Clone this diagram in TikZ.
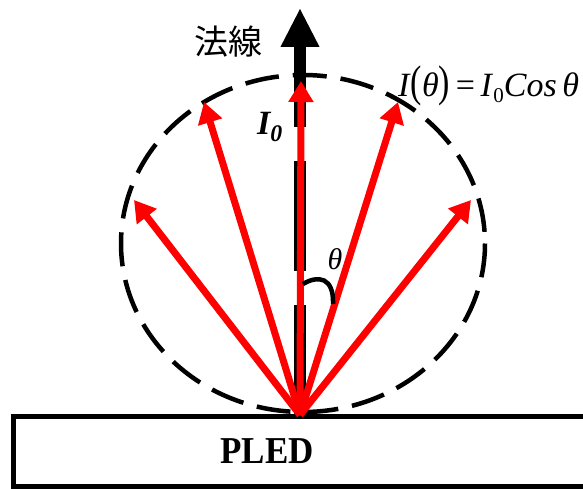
\documentclass[tikz,border=0pt]{standalone}
\usepackage{fontspec}
\setmainfont{Liberation Serif}
\newfontfamily\cjk{Noto Sans CJK JP}
\usetikzlibrary{arrows.meta}
\tikzset{
  ray/.style={draw=red, line width=7pt, -{Triangle[length=21pt 0, width=24pt 0]}},
  normal/.style={draw=black, line width=12pt, -{Triangle[length=39pt 0, width=36pt 0]}},
  normaldash/.style={draw=black, line width=12pt, dash pattern=on 110pt off 34pt},
  lobe/.style={draw=black, line width=4.5pt, dash pattern=on 34pt off 14pt},
  hook/.style={draw=black, line width=4.5pt},
  box/.style={draw=black, line width=5pt, fill=white}
}
\begin{document}
\begin{tikzpicture}[x=1pt,y=-1pt]
\useasboundingbox (0,0) rectangle (583,489);
\clip (0,0) rectangle (583,489);
% PLED box
\draw[box] (13,416) rectangle (600,486);
\node[font=\bfseries\fontsize{38}{38}\selectfont, xscale=0.92] (pled) at (267,451) {PLED};
% origin and tips
\coordinate (o) at (300,415);
\coordinate (ntop) at (300,8);
\coordinate (nbase) at (300,90);
\coordinate (t0) at (301,81);
\coordinate (tl1) at (204,102);
\coordinate (tl2) at (134,200);
\coordinate (tr1) at (398,102);
\coordinate (tr2) at (471,200);
% lobe
\draw[lobe] (303,243.5) ellipse [x radius=182, y radius=168.5];
% normal
\draw[normaldash] (o) -- (300,80);
\draw[normal] (nbase) -- (ntop);
% rays
\draw[ray] (o) -- (t0);
\draw[ray] (o) -- (tl1);
\draw[ray] (o) -- (tl2);
\draw[ray] (o) -- (tr1);
\draw[ray] (o) -- (tr2);
% angle hook
\coordinate (h1) at (303,284);
\coordinate (h2) at (333,304);
\draw[hook] (h1) .. controls (318,275) and (334,277) .. (h2);
% labels
\node[font=\cjk\fontsize{34}{34}\selectfont] (fa) at (228,42) {法線};
\node[font=\bfseries\itshape\fontsize{34}{34}\selectfont, inner sep=0pt] (i0) at (270,127) {I\textsubscript{0}};
\node[font=\itshape\fontsize{30}{30}\selectfont, inner sep=0pt] (th) at (335,259) {θ};
\node[anchor=base west, inner sep=0pt, font=\fontsize{34}{34}\selectfont] (eq) at (398,97)
  {\textit{I}\scalebox{1}[1.3]{(}\textit{θ}\scalebox{1}[1.3]{)}\,=\,\textit{I}\raisebox{-6pt}{\fontsize{21}{21}\selectfont 0}\textit{Cos\,θ}};
\end{tikzpicture}
\end{document}
